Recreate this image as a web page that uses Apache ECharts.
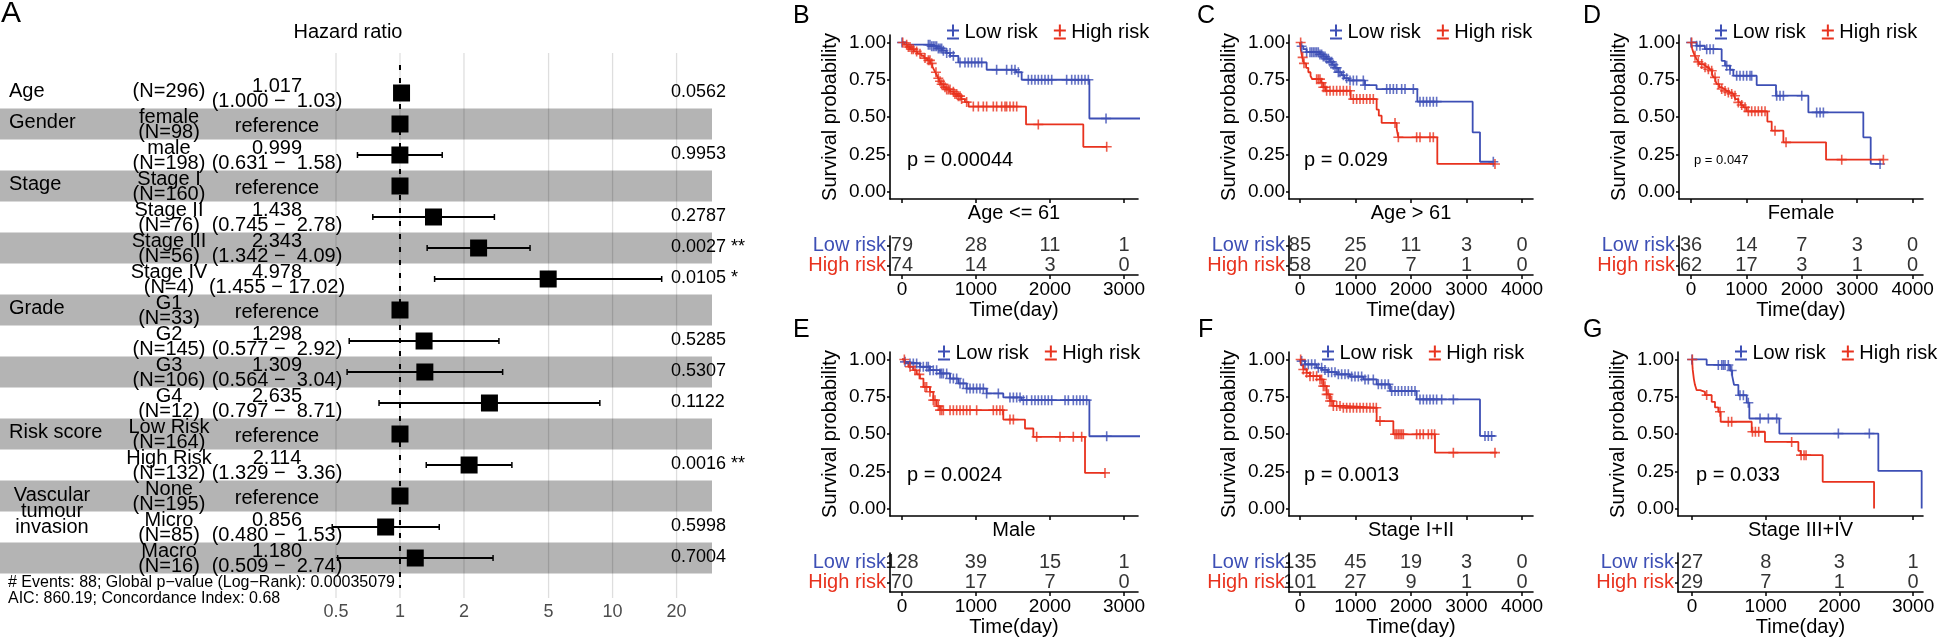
<!DOCTYPE html>
<html><head><meta charset="utf-8">
<script src="https://cdn.jsdelivr.net/npm/echarts@6/dist/echarts.min.js"></script>
<style>html,body{margin:0;padding:0;background:#fff}#c{width:1946px;height:639px}</style>
</head><body><div id="c"></div>
<script>
const FONT = 'Liberation Sans, Arial, Helvetica, sans-serif';
const BLUE = '#3D4FB5', RED = '#E8321E';

// ---------- Panel A: forest plot data ----------
const forestLevels = ['', 'female', 'male', 'Stage I', 'Stage II', 'Stage III', 'Stage IV', 'G1', 'G2', 'G3', 'G4', 'Low Risk', 'High Risk', 'None', 'Micro', 'Macro'];
const forestN = [296, 98, 198, 160, 76, 56, 4, 33, 145, 106, 12, 164, 132, 195, 85, 16];
const forestHR = [1.017, null, 0.999, null, 1.438, 2.343, 4.978, null, 1.298, 1.309, 2.635, null, 2.114, null, 0.856, 1.180];
const forestLo = [1.000, null, 0.631, null, 0.745, 1.342, 1.455, null, 0.577, 0.564, 0.797, null, 1.329, null, 0.480, 0.509];
const forestHi = [1.03, null, 1.58, null, 2.78, 4.09, 17.02, null, 2.92, 3.04, 8.71, null, 3.36, null, 1.53, 2.74];
const forestP = ['0.0562', '', '0.9953', '', '0.2787', '0.0027', '0.0105', '', '0.5285', '0.5307', '0.1122', '', '0.0016', '', '0.5998', '0.7004'];
const forestSig = ['', '', '', '', '', '**', '*', '', '', '', '', '', '**', '', '', ''];
const forestVars = ['Age', 'Gender', 'Stage', 'Grade', 'Risk score', 'Vascular\ntumour\ninvasion'];
const forestVarRows = [0, 1, 3, 7, 11, 13.5];
const forestTicks = [0.5, 1, 2, 5, 10, 20];
const forestNote1 = '# Events: 88; Global p\u2212value (Log\u2212Rank): 0.00035079';
const forestNote2 = 'AIC: 860.19; Concordance Index: 0.68';

// ---------- KM panels data: [time, survival] step points ----------
const B_low = [[0,1],[60,0.985],[390,0.975],[470,0.96],[540,0.945],[600,0.93],[650,0.91],[761,0.866],[1144,0.817],[1541,0.80],[1617,0.75],[2532,0.49],[3400,0.49]];
const B_high = [[0,1],[30,0.985],[70,0.97],[110,0.955],[160,0.94],[210,0.925],[260,0.91],[300,0.895],[340,0.88],[380,0.86],[410,0.84],[430,0.82],[450,0.8],[470,0.78],[490,0.76],[510,0.74],[530,0.72],[560,0.7],[600,0.685],[650,0.67],[700,0.655],[750,0.64],[800,0.62],[850,0.6],[900,0.57],[1676,0.45],[2450,0.3],[2770,0.3]];
const B_lowCens = [0,356,378,401,423,446,468,491,514,536,559,604,649,694,784,851,896,941,986,1032,1077,1279,1414,1482,1527,1572,1707,1752,1797,1842,1887,1932,1977,2023,2225,2293,2338,2383,2428,2473,2518,2757];
const B_highCens = [10,63,86,108,131,153,198,243,311,356,378,401,459,491,514,536,559,581,604,626,649,694,716,739,761,784,806,874,964,1032,1099,1144,1234,1279,1347,1392,1414,1459,1505,1550,1842,2766];

const C_low = [[0,1],[20,0.975],[60,0.955],[120,0.935],[360,0.92],[420,0.905],[480,0.89],[540,0.87],[580,0.85],[630,0.83],[690,0.8],[750,0.78],[800,0.76],[880,0.745],[1170,0.714],[1380,0.687],[2114,0.603],[3111,0.397],[3243,0.2],[3490,0.2]];
const C_high = [[0,1],[15,0.95],[40,0.9],[70,0.86],[110,0.83],[150,0.8],[190,0.775],[220,0.754],[380,0.73],[420,0.7],[460,0.676],[913,0.62],[1381,0.55],[1420,0.509],[1471,0.46],[1742,0.42],[1772,0.364],[2474,0.185],[3520,0.185]];
const C_lowCens = [30,120,180,210,240,270,300,330,360,390,420,450,480,511,541,571,601,631,661,691,721,781,841,901,961,1021,1141,1171,1562,1622,1682,1742,1832,1892,2042,2162,2222,2282,2342,2402,2462,3483];
const C_highCens = [12,48,72,300,330,360,390,420,450,480,541,601,661,721,781,841,901,961,1021,1081,1141,1201,1261,1321,1712,1772,2102,2162,2342,2402,3513];

const D_low = [[0,1],[100,0.978],[250,0.955],[553,0.877],[614,0.844],[704,0.817],[764,0.777],[1185,0.714],[1534,0.643],[2118,0.531],[3110,0.364],[3243,0.185],[3430,0.185]];
const D_high = [[0,1],[20,0.96],[42,0.933],[70,0.91],[102,0.888],[130,0.87],[162,0.855],[210,0.845],[253,0.833],[300,0.82],[343,0.81],[380,0.79],[403,0.766],[440,0.745],[463,0.721],[510,0.7],[553,0.688],[600,0.675],[644,0.665],[700,0.655],[764,0.643],[800,0.62],[854,0.598],[900,0.58],[945,0.565],[1005,0.538],[1378,0.469],[1456,0.408],[1667,0.33],[2437,0.214],[3475,0.214]];
const D_lowCens = [0,102,162,283,343,403,644,704,824,884,945,1005,1065,1095,1546,1606,1667,1998,2268,2329,2389,3412];
const D_highCens = [12,72,132,193,253,313,373,433,493,554,614,674,734,794,854,915,975,1035,1095,1155,1215,1276,1336,1516,1715,2720,3472];

const E_low = [[0,1],[30,0.984],[63,0.973],[243,0.951],[378,0.928],[514,0.906],[649,0.872],[761,0.839],[874,0.805],[1144,0.772],[1369,0.745],[1617,0.727],[2532,0.485],[3400,0.485]];
const E_high = [[0,1],[40,0.975],[86,0.951],[150,0.928],[200,0.9],[243,0.872],[290,0.816],[378,0.783],[423,0.727],[468,0.687],[514,0.66],[1369,0.597],[1662,0.537],[1775,0.481],[2473,0.239],[2750,0.239]];
const E_lowCens = [41,108,153,198,243,288,333,356,378,423,468,514,536,559,604,649,694,739,784,829,874,919,964,1009,1054,1099,1144,1302,1459,1505,1550,1595,1640,1685,1752,1797,1842,1887,1932,1977,2023,2203,2248,2315,2360,2405,2450,2495,2766];
const E_highCens = [32,108,176,234,311,333,378,423,446,491,514,536,559,649,694,739,784,829,874,919,1009,1234,1279,1324,1360,1459,1505,1820,2135,2315,2428,2743];

const F_low = [[0,1],[30,0.989],[90,0.967],[300,0.944],[400,0.93],[500,0.915],[661,0.9],[900,0.885],[1141,0.866],[1381,0.833],[1622,0.788],[2102,0.732],[3243,0.487],[3520,0.487]];
const F_high = [[0,1],[20,0.96],[60,0.933],[120,0.91],[180,0.888],[360,0.866],[420,0.821],[480,0.766],[540,0.721],[600,0.688],[781,0.676],[1381,0.587],[1682,0.498],[2432,0.375],[3550,0.375]];
const F_lowCens = [30,90,150,210,270,330,390,450,511,571,631,691,751,811,871,931,991,1051,1111,1171,1231,1321,1411,1471,1532,1592,1652,1712,1772,1832,1892,1952,2012,2072,2162,2222,2282,2342,2402,2462,2553,2763,3333,3393,3453];
const F_highCens = [12,60,120,180,240,300,360,390,420,450,480,511,541,571,601,661,721,781,841,901,961,1021,1081,1141,1201,1261,1321,1375,1441,1712,1742,1772,1802,1832,1862,2102,2162,2222,2312,2372,2425,2763,3513];

const G_low = [[0,1],[199,0.963],[516,0.926],[545,0.89],[570,0.83],[629,0.76],[742,0.71],[778,0.604],[1185,0.503],[2528,0.252],[3116,0]];
const G_high = [[0,1],[10,0.93],[25,0.87],[40,0.83],[63,0.794],[109,0.783],[176,0.761],[267,0.716],[312,0.678],[357,0.649],[389,0.582],[810,0.515],[990,0.447],[1443,0.387],[1474,0.358],[1773,0.179],[2470,0]];
const G_lowCens = [0,357,403,425,448,493,538,651,697,764,923,1036,1149,1986,2406];
const G_highCens = [5,199,380,493,538,820,860,905,1352,1480,1520,1547];

// ---------- risk tables ----------
const riskTimes3 = [0, 1000, 2000, 3000];
const riskTimes4 = [0, 1000, 2000, 3000, 4000];
const B_riskLow = [79, 28, 11, 1], B_riskHigh = [74, 14, 3, 0];
const C_riskLow = [85, 25, 11, 3, 0], C_riskHigh = [58, 20, 7, 1, 0];
const D_riskLow = [36, 14, 7, 3, 0], D_riskHigh = [62, 17, 3, 1, 0];
const E_riskLow = [128, 39, 15, 1], E_riskHigh = [70, 17, 7, 0];
const F_riskLow = [135, 45, 19, 3, 0], F_riskHigh = [101, 27, 9, 1, 0];
const G_riskLow = [27, 8, 3, 1], G_riskHigh = [29, 7, 1, 0];
const groupNames = ['Low risk', 'High risk'];
const survTicks = [0, 0.25, 0.5, 0.75, 1];

const kmPanels = [
  {letter:'B', title:'Age <= 61', p:'p = 0.00044', low:B_low, high:B_high, lowC:B_lowCens, highC:B_highCens, t:riskTimes3, rl:B_riskLow, rh:B_riskHigh},
  {letter:'C', title:'Age > 61', p:'p = 0.029', low:C_low, high:C_high, lowC:C_lowCens, highC:C_highCens, t:riskTimes4, rl:C_riskLow, rh:C_riskHigh},
  {letter:'D', title:'Female', p:'p = 0.047', low:D_low, high:D_high, lowC:D_lowCens, highC:D_highCens, t:riskTimes4, rl:D_riskLow, rh:D_riskHigh},
  {letter:'E', title:'Male', p:'p = 0.0024', low:E_low, high:E_high, lowC:E_lowCens, highC:E_highCens, t:riskTimes3, rl:E_riskLow, rh:E_riskHigh},
  {letter:'F', title:'Stage I+II', p:'p = 0.0013', low:F_low, high:F_high, lowC:F_lowCens, highC:F_highCens, t:riskTimes4, rl:F_riskLow, rh:F_riskHigh},
  {letter:'G', title:'Stage III+IV', p:'p = 0.033', low:G_low, high:G_high, lowC:G_lowCens, highC:G_highCens, t:riskTimes3, rl:G_riskLow, rh:G_riskHigh}
];

// ---------- layout (positions only) ----------
const kmLayout = [
  {left:890, width:248, xmin:-162, xmax:3189, row:0, legendX:947, pX:907, pSize:20, letterX:793},
  {left:1289, width:244, xmin:-198, xmax:4198, row:0, legendX:1330, pX:1304, pSize:20, letterX:1197},
  {left:1679, width:244, xmin:-217, xmax:4187, row:0, legendX:1715, pX:1694, pSize:13, letterX:1583},
  {left:890, width:248, xmin:-162, xmax:3189, row:1, legendX:938, pX:907, pSize:20, letterX:793},
  {left:1289, width:244, xmin:-198, xmax:4198, row:1, legendX:1322, pX:1304, pSize:20, letterX:1198},
  {left:1678, width:245, xmin:-190, xmax:3134, row:1, legendX:1735, pX:1696, pSize:20, letterX:1583}
];
const rowLayout = [
  {kmTop:35, kmH:164, tabTop:236, tabH:39, legendY:33, pY:160, letterY:16},
  {kmTop:352, kmH:164, tabTop:553, tabH:39, legendY:354, pY:475, letterY:330}
];

function survAt(curve, t) {
  let s = curve[0][1];
  for (const [ti, si] of curve) { if (ti <= t) s = si; else break; }
  return s;
}

const PLUS = 'path://M4.2,0H5.8V4.2H10V5.8H5.8V10H4.2V5.8H0V4.2H4.2Z';
const LEG_ICON = 'path://M6,0H8V5H13V7H8V12H6V7H1V5H6Z M1,13H13V15H1Z';

const grids = [{left:0, top:53, width:712, height:545}];
const xAxes = [{type:'log', logBase:10, gridIndex:0, min:0.01314, max:29.35, show:false}];
const yAxes = [{type:'value', gridIndex:0, inverse:true, min:-1.29, max:16.29, show:false}];
const series = [];
const legends = [];
const graphics = [];

// forest series
const txt = (text, x, y, size, align, extra) => ({type:'text', style:Object.assign({text, x, y, fill:'#000', fontSize:size, fontFamily:FONT, align, verticalAlign:'middle'}, extra||{})});
series.push({
  type:'custom', xAxisIndex:0, yAxisIndex:0, z:1, silent:true,
  data: forestLevels.map((l, i) => [1, i]).filter(d => d[1] % 2 === 1),
  renderItem: (params, api) => {
    const cs = params.coordSys;
    const y1 = api.coord([1, api.value(1) - 0.5])[1], y2 = api.coord([1, api.value(1) + 0.5])[1];
    return {type:'rect', shape:{x:cs.x, y:y1, width:cs.width, height:y2 - y1}, style:{fill:'#b4b4b4'}};
  }
});
series.push({
  type:'custom', xAxisIndex:0, yAxisIndex:0, z:2, silent:true,
  data: forestTicks.map(v => [v, 0]),
  renderItem: (params, api) => {
    const cs = params.coordSys; const x = api.coord([api.value(0), 0])[0];
    return {type:'group', children:[
      {type:'line', shape:{x1:x, y1:cs.y, x2:x, y2:cs.y + cs.height}, style:{stroke:'rgba(0,0,0,0.13)', lineWidth:1.3}},
      txt(String(api.value(0)), x, cs.y + cs.height + 14, 18, 'center', {fill:'#4d4d4d'})
    ]};
  }
});
series.push({
  type:'custom', xAxisIndex:0, yAxisIndex:0, z:3, silent:true,
  data: [[1, 0]],
  renderItem: (params, api) => {
    const cs = params.coordSys; const x = api.coord([1, 0])[0];
    return {type:'line', shape:{x1:x, y1:cs.y + 12, x2:x, y2:cs.y + cs.height - 10}, style:{stroke:'#000', lineWidth:2, lineDash:[5, 8]}};
  }
});
series.push({
  type:'custom', xAxisIndex:0, yAxisIndex:0, z:4, silent:true,
  data: forestHR.map((h, i) => [h == null ? 1 : h, i, forestLo[i] == null ? '-' : forestLo[i], forestHi[i] == null ? '-' : forestHi[i]]),
  renderItem: (params, api) => {
    const i = api.value(1), hr = api.value(0), lo = api.value(2), hi = api.value(3);
    const c = api.coord([hr, i]); const ch = [];
    if (isFinite(lo) && isFinite(hi)) {
      const a = api.coord([lo, i])[0], b = api.coord([hi, i])[0];
      ch.push({type:'line', shape:{x1:a, y1:c[1], x2:b, y2:c[1]}, style:{stroke:'#000', lineWidth:2}});
      ch.push({type:'line', shape:{x1:a, y1:c[1] - 3, x2:a, y2:c[1] + 3}, style:{stroke:'#000', lineWidth:1.5}});
      ch.push({type:'line', shape:{x1:b, y1:c[1] - 3, x2:b, y2:c[1] + 3}, style:{stroke:'#000', lineWidth:1.5}});
    }
    ch.push({type:'rect', shape:{x:c[0] - 8.5, y:c[1] - 8.5, width:17, height:17}, style:{fill:'#000'}});
    return {type:'group', children:ch};
  }
});
series.push({
  type:'custom', xAxisIndex:0, yAxisIndex:0, z:5, silent:true,
  data: forestLevels.map((l, i) => [1, i]),
  renderItem: (params, api) => {
    const i = api.value(1); const cs = params.coordSys; const y = api.coord([1, i])[1]; const x0 = cs.x;
    const ch = []; const n = '(N=' + forestN[i] + ')';
    if (forestLevels[i]) { ch.push(txt(forestLevels[i], x0 + 169, y - 7, 20, 'center')); ch.push(txt(n, x0 + 169, y + 8, 20, 'center')); }
    else ch.push(txt(n, x0 + 169, y - 2, 20, 'center'));
    if (forestHR[i] == null) ch.push(txt('reference', x0 + 277, y + 2, 20, 'center'));
    else {
      ch.push(txt(forestHR[i].toFixed(3), x0 + 277, y - 7, 20, 'center'));
      ch.push(txt('(' + forestLo[i].toFixed(3) + ' \u2212 ' + forestHi[i].toFixed(2).padStart(5, ' ') + ')', x0 + 277, y + 8, 20, 'center'));
    }
    if (forestP[i]) ch.push(txt(forestP[i] + (forestSig[i] ? ' ' + forestSig[i] : ''), x0 + 671, y - 1, 18, 'left'));
    return {type:'group', children:ch};
  }
});
series.push({
  type:'custom', xAxisIndex:0, yAxisIndex:0, z:5, silent:true,
  data: forestVars.map((v, k) => [1, forestVarRows[k], k]),
  renderItem: (params, api) => {
    const k = api.value(2); const cs = params.coordSys; const y = api.coord([1, api.value(1)])[1];
    const name = forestVars[k];
    if (name.indexOf('\n') >= 0) return txt(name, cs.x + 52, y, 20, 'center', {lineHeight:16});
    return txt(name, cs.x + 9, y - 2, 20, 'left');
  }
});

graphics.push({type:'text', x:1, y:14, style:{text:'A', fontSize:30, fontFamily:FONT, fill:'#000', align:'left', verticalAlign:'middle'}});
graphics.push({type:'text', x:348, y:32, style:{text:'Hazard ratio', fontSize:20, fontFamily:FONT, fill:'#000', align:'center', verticalAlign:'middle'}});
graphics.push({type:'text', x:8, y:583, style:{text:forestNote1, fontSize:16, fontFamily:FONT, fill:'#000', align:'left', verticalAlign:'middle'}});
graphics.push({type:'text', x:8, y:599, style:{text:forestNote2, fontSize:16, fontFamily:FONT, fill:'#000', align:'left', verticalAlign:'middle'}});

// KM panels
kmPanels.forEach((P, k) => {
  const L = kmLayout[k], R = rowLayout[L.row];
  const gi = 1 + k, ti = 7 + k;
  grids[gi] = {left:L.left, top:R.kmTop, width:L.width, height:R.kmH};
  grids[ti] = {left:L.left, top:R.tabTop, width:L.width, height:R.tabH};
  const axLine = {show:true, onZero:false, lineStyle:{color:'#000', width:1.6}};
  xAxes[gi] = {type:'value', gridIndex:gi, min:L.xmin, max:L.xmax, axisLine:axLine,
    axisTick:{show:true, customValues:P.t, length:4, lineStyle:{color:'#000', width:1.5}},
    axisLabel:{show:false}, splitLine:{show:false},
    name:P.title, nameLocation:'middle', nameGap:4, nameTextStyle:{fontSize:20, color:'#000', fontFamily:FONT, verticalAlign:'top'}};
  yAxes[gi] = {type:'value', gridIndex:gi, min:-0.05, max:1.05, axisLine:axLine,
    axisTick:{show:true, customValues:survTicks, length:3, lineStyle:{color:'#000', width:1.5}},
    axisLabel:{customValues:survTicks, formatter:v => Number(v).toFixed(2), fontSize:19, color:'#000', fontFamily:FONT, margin:4},
    splitLine:{show:false}, name:'Survival probability', nameLocation:'middle', nameGap:50,
    nameTextStyle:{fontSize:20, color:'#000', fontFamily:FONT}};
  xAxes[ti] = {type:'value', gridIndex:ti, min:L.xmin, max:L.xmax, axisLine:axLine,
    axisTick:{show:true, customValues:P.t, length:4, lineStyle:{color:'#000', width:1.5}},
    axisLabel:{customValues:P.t, formatter:v => String(Math.round(v)), fontSize:19, color:'#000', fontFamily:FONT, margin:5},
    splitLine:{show:false}, name:'Time(day)', nameLocation:'middle', nameGap:25,
    nameTextStyle:{fontSize:20, color:'#000', fontFamily:FONT, verticalAlign:'top'}};
  yAxes[ti] = {type:'category', gridIndex:ti, data:['High risk', 'Low risk'], axisLine:axLine,
    axisTick:{show:true, alignWithLabel:true, interval:0, length:3, lineStyle:{color:'#000', width:1.5}},
    axisLabel:{interval:0, hideOverlap:false, fontSize:20, fontFamily:FONT, margin:4, color:(v) => v === 'Low risk' ? BLUE : RED},
    splitLine:{show:false}};
  const lines = [[P.low, BLUE, groupNames[0], P.lowC], [P.high, RED, groupNames[1], P.highC]];
  lines.forEach(([curve, col, nm]) => {
    series.push({type:'line', name:nm, xAxisIndex:gi, yAxisIndex:gi, data:curve, step:'end', showSymbol:false, symbol:'none',
      lineStyle:{color:col, width:1.8}, itemStyle:{color:col}, silent:true, z:3});
  });
  lines.forEach(([curve, col, nm, cens]) => {
    series.push({type:'scatter', name:nm, xAxisIndex:gi, yAxisIndex:gi, data:cens.map(t => [t, survAt(curve, t)]),
      symbol:PLUS, symbolSize:10, itemStyle:{color:col}, silent:true, z:4});
  });
  series.push({type:'scatter', xAxisIndex:ti, yAxisIndex:ti, symbolSize:0, silent:true,
    data:P.t.map((t, j) => [t, 1, P.rl[j]]).concat(P.t.map((t, j) => [t, 0, P.rh[j]])),
    label:{show:true, position:'inside', formatter:p => String(p.value[2]), fontSize:20, color:'#000', fontFamily:FONT}});
  legends.push({data:groupNames, left:L.legendX, top:R.legendY - 11, icon:LEG_ICON, itemWidth:13, itemHeight:15, itemGap:16,
    padding:0, selectedMode:false, textStyle:{fontSize:20, color:'#000', fontFamily:FONT}});
  graphics.push({type:'text', x:L.pX, y:R.pY, style:{text:P.p, fontSize:L.pSize, fontFamily:FONT, fill:'#000', align:'left', verticalAlign:'middle'}});
  graphics.push({type:'text', x:L.letterX, y:R.letterY, style:{text:P.letter, fontSize:25, fontFamily:FONT, fill:'#000', align:'left', verticalAlign:'middle'}});
});

const chart = echarts.init(document.getElementById('c'), null, {renderer:'canvas'});
chart.setOption({
  animation:false,
  backgroundColor:'#fff',
  textStyle:{fontFamily:FONT},
  grid:grids, xAxis:xAxes, yAxis:yAxes, legend:legends, series:series, graphic:graphics
});
</script></body></html>
